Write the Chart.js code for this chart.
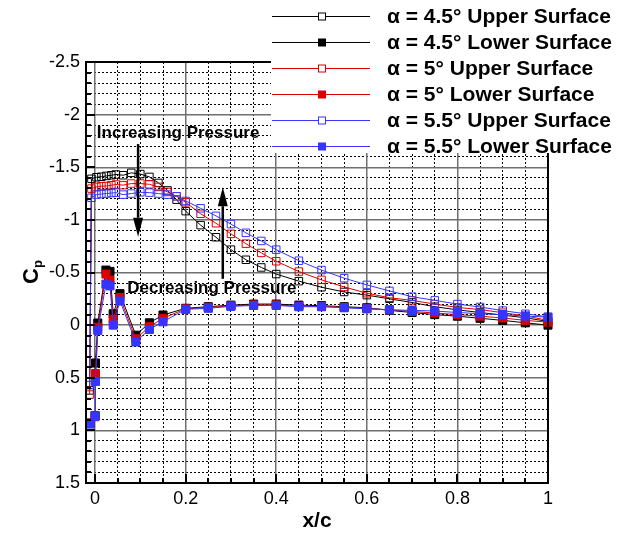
<!DOCTYPE html>
<html><head><meta charset="utf-8">
<script src="https://cdn.jsdelivr.net/npm/chart.js@4/dist/chart.umd.min.js"></script>
<style>html,body{margin:0;padding:0;background:#fff;}#wrap{position:relative;width:621px;height:537px;}</style>
</head><body><div id="wrap"><canvas id="c"></canvas></div>
<script>
// ---- data ----
const xUpper = [-0.012, -0.008, 0.003, 0.014, 0.025, 0.036, 0.046, 0.062, 0.08, 0.1, 0.12, 0.14, 0.16, 0.18, 0.2, 0.233, 0.267, 0.3, 0.333, 0.367, 0.4, 0.45, 0.5, 0.55, 0.6, 0.65, 0.7, 0.75, 0.8, 0.85, 0.9, 0.95, 1.0];
const cpUpper45 = [0.62, -1.39, -1.405, -1.41, -1.418, -1.424, -1.431, -1.424, -1.447, -1.435, -1.408, -1.351, -1.28, -1.192, -1.083, -0.95, -0.835, -0.717, -0.621, -0.548, -0.485, -0.418, -0.36, -0.315, -0.285, -0.25, -0.215, -0.175, -0.145, -0.12, -0.095, -0.07, -0.035];
const cpUpper5 = [0.66, -1.297, -1.313, -1.32, -1.322, -1.329, -1.336, -1.33, -1.345, -1.345, -1.338, -1.313, -1.265, -1.224, -1.167, -1.058, -0.968, -0.867, -0.774, -0.686, -0.607, -0.509, -0.43, -0.363, -0.303, -0.26, -0.235, -0.2, -0.168, -0.148, -0.118, -0.088, -0.045];
const cpUpper55 = [0.57, -1.21, -1.24, -1.246, -1.25, -1.255, -1.259, -1.24, -1.25, -1.262, -1.259, -1.25, -1.24, -1.224, -1.18, -1.11, -1.038, -0.96, -0.877, -0.8, -0.717, -0.612, -0.523, -0.446, -0.382, -0.325, -0.27, -0.235, -0.2, -0.172, -0.138, -0.108, -0.078];

const xLower = [-0.011, 0.0, 0.001, 0.006, 0.024, 0.033, 0.04, 0.055, 0.09, 0.12, 0.15, 0.2, 0.25, 0.3, 0.35, 0.4, 0.45, 0.5, 0.55, 0.6, 0.65, 0.7, 0.75, 0.8, 0.85, 0.9, 0.95, 1.0];
const cpLower45 = [0.93, 0.86, 0.36, -0.02, -0.523, -0.51, -0.108, -0.299, 0.096, -0.022, -0.096, -0.16, -0.175, -0.19, -0.2, -0.2, -0.19, -0.185, -0.175, -0.165, -0.14, -0.12, -0.1, -0.085, -0.065, -0.045, -0.022, 0.0];
const cpLower5 = [0.93, 0.86, 0.46, 0.02, -0.485, -0.427, -0.055, -0.261, 0.13, 0.015, -0.065, -0.155, -0.168, -0.183, -0.192, -0.192, -0.18, -0.178, -0.168, -0.158, -0.145, -0.13, -0.115, -0.1, -0.085, -0.068, -0.045, -0.028];
const cpLower55 = [0.94, 0.87, 0.535, 0.05, -0.389, -0.373, 0.0, -0.229, 0.16, 0.041, -0.032, -0.15, -0.16, -0.178, -0.187, -0.187, -0.175, -0.175, -0.165, -0.155, -0.146, -0.14, -0.134, -0.12, -0.108, -0.1, -0.086, -0.076];

const seriesLabels = ['\u03B1 = 4.5\u00B0 Upper Surface', '\u03B1 = 4.5\u00B0 Lower Surface', '\u03B1 = 5\u00B0 Upper Surface', '\u03B1 = 5\u00B0 Lower Surface', '\u03B1 = 5.5\u00B0 Upper Surface', '\u03B1 = 5.5\u00B0 Lower Surface'];
const xTickValues = [0, 0.2, 0.4, 0.6, 0.8, 1];
const xTickLabels = ['0', '0.2', '0.4', '0.6', '0.8', '1'];
const yTickValues = [-2.5, -2, -1.5, -1, -0.5, 0, 0.5, 1, 1.5];
const yTickLabels = ['-2.5', '-2', '-1.5', '-1', '-0.5', '0', '0.5', '1', '1.5'];
const xTitle = 'x/c';
const yTitleMain = 'C', yTitleSub = 'p';
const annIncText = 'Increasing Pressure';
const annDecText = 'Decreasing Pressure';

// ---- styling ----
const FONT = '"Liberation Sans", Arial, Helvetica, sans-serif';
const BLACK = '#000000', RED = '#dd0000', BLUE = '#3535ff';
const pts = (xs, ys) => xs.map((x, i) => ({x: x, y: ys[i]}));
function ds(label, xs, ys, color, filled, order) {
  return {
    label: label, data: pts(xs, ys), order: order,
    borderColor: color, borderWidth: 1, tension: 0, fill: false, clip: false,
    pointStyle: 'rect', pointRadius: filled ? 5.7 : 5.3,
    pointBorderColor: color, pointBorderWidth: 1,
    pointBackgroundColor: filled ? color : 'rgba(0,0,0,0)',
    _filled: filled
  };
}
const datasets = [
  ds(seriesLabels[0], xUpper, cpUpper45, BLACK, false, 5),
  ds(seriesLabels[1], xLower, cpLower45, BLACK, true, 4),
  ds(seriesLabels[2], xUpper, cpUpper5, RED, false, 3),
  ds(seriesLabels[3], xLower, cpLower5, RED, true, 2),
  ds(seriesLabels[4], xUpper, cpUpper55, BLUE, false, 1),
  ds(seriesLabels[5], xLower, cpLower55, BLUE, true, 0)
];

const isMult = (v, step) => Math.abs(v / step - Math.round(v / step)) < 1e-6;

const decor = {
  id: 'decor',
  afterDatasetsDraw(chart) {
    const {ctx, chartArea: a} = chart;
    const xs = chart.scales.x, ys = chart.scales.y;
    ctx.save();
    ctx.strokeStyle = '#000';
    ctx.lineWidth = 2;
    ctx.beginPath();
    for (let i = 0; i <= 20; i++) {
      const v = i / 20, px = Math.round(xs.getPixelForValue(v));
      ctx.moveTo(px, a.bottom); ctx.lineTo(px, a.bottom - (isMult(v, 0.2) ? 9 : 5));
    }
    for (let i = -25; i <= 15; i++) {
      const v = i / 10, py = Math.round(ys.getPixelForValue(v));
      ctx.moveTo(a.left, py); ctx.lineTo(a.left + (isMult(v, 0.5) ? 9 : 5), py);
    }
    ctx.stroke();
    ctx.lineWidth = 2;
    ctx.strokeRect(Math.round(a.left), Math.round(a.top), Math.round(a.right - a.left), Math.round(a.bottom - a.top));
    ctx.restore();
  },
  afterDraw(chart) {
    const {ctx} = chart;
    const xs = chart.scales.x, ys = chart.scales.y;
    ctx.save();
    // arrows
    function arrow(xv, fromV, toV) {
      const px = xs.getPixelForValue(xv);
      const y0 = ys.getPixelForValue(fromV), y1 = ys.getPixelForValue(toV);
      const dir = y1 > y0 ? 1 : -1;
      const headL = 19, headW = 5;
      ctx.strokeStyle = '#000'; ctx.fillStyle = '#000'; ctx.lineWidth = 2.5;
      ctx.beginPath(); ctx.moveTo(px, y0); ctx.lineTo(px, y1 - dir * headL); ctx.stroke();
      ctx.beginPath(); ctx.moveTo(px, y1); ctx.lineTo(px - headW, y1 - dir * headL); ctx.lineTo(px + headW, y1 - dir * headL); ctx.closePath(); ctx.fill();
    }
    arrow(0.095, -1.72, -0.84);
    arrow(0.282, -0.44, -1.31);
    ctx.fillStyle = '#000';
    ctx.textBaseline = 'middle'; ctx.textAlign = 'left';
    ctx.font = 'bold 17px ' + FONT;
    ctx.fillText(annIncText, xs.getPixelForValue(0.004), ys.getPixelForValue(-1.826));
    ctx.font = 'bold 17px ' + FONT;
    ctx.fillText(annDecText, xs.getPixelForValue(0.071), ys.getPixelForValue(-0.354));
    // y title
    ctx.save();
    ctx.translate(30, 272);
    ctx.rotate(-Math.PI / 2);
    ctx.textBaseline = 'alphabetic'; ctx.textAlign = 'left';
    ctx.font = 'bold 22px ' + FONT;
    const wC = ctx.measureText(yTitleMain).width;
    ctx.font = 'bold 13px ' + FONT;
    const wP = ctx.measureText(yTitleSub).width;
    const x0 = -(wC + wP) / 2;
    ctx.font = 'bold 22px ' + FONT;
    ctx.fillText(yTitleMain, x0, 8);
    ctx.font = 'bold 13px ' + FONT;
    ctx.fillText(yTitleSub, x0 + wC, 12);
    ctx.restore();
    // legend box
    ctx.fillStyle = '#fff';
    ctx.fillRect(271, 0, 621 - 271, 153);
    chart.data.datasets.forEach((d, i) => {
      const y = 16 + i * 26;
      ctx.strokeStyle = d.borderColor; ctx.lineWidth = 1;
      ctx.beginPath(); ctx.moveTo(272, y + 0.5); ctx.lineTo(370, y + 0.5); ctx.stroke();
      const s = d._filled ? 8 : 7;
      if (d._filled) { ctx.fillStyle = d.borderColor; ctx.fillRect(322 - s / 2, y + 0.5 - s / 2, s, s); }
      else { ctx.fillStyle = '#fff'; ctx.fillRect(322 - s / 2, y + 0.5 - s / 2, s, s); ctx.strokeRect(322 - s / 2, y + 0.5 - s / 2, s, s); }
      ctx.fillStyle = '#000';
      ctx.font = 'bold 21px ' + FONT;
      ctx.textBaseline = 'middle'; ctx.textAlign = 'left';
      ctx.fillText(d.label, 387, y + 1);
    });
    ctx.restore();
  }
};

new Chart(document.getElementById('c'), {
  type: 'line',
  data: {datasets: datasets},
  options: {
    responsive: true, maintainAspectRatio: false, animation: false,
    layout: {padding: {left: 0, right: 73, top: 62, bottom: 0}},
    plugins: {legend: {display: false}, tooltip: {enabled: false}},
    scales: {
      xm: {
        type: 'linear', position: 'bottom', min: -0.02, max: 1,
        afterBuildTicks: s => { const t = []; for (let i = 0; i <= 20; i++) t.push({value: i / 20}); s.ticks = t; },
        afterFit: s => { s.height = 0; },
        ticks: {display: false},
        grid: {drawTicks: false, lineWidth: 1, color: c => isMult(c.tick.value, 0.2) ? 'rgba(0,0,0,0)' : '#000'},
        border: {display: false, dash: [2, 2]}
      },
      ym: {
        type: 'linear', position: 'left', reverse: true, min: -2.5, max: 1.5,
        afterBuildTicks: s => { const t = []; for (let i = -25; i <= 15; i++) t.push({value: i / 10}); s.ticks = t; },
        afterFit: s => { s.width = 0; },
        ticks: {display: false},
        grid: {drawTicks: false, lineWidth: 1, color: c => isMult(c.tick.value, 0.5) ? 'rgba(0,0,0,0)' : '#000'},
        border: {display: false, dash: [2, 2]}
      },
      x: {
        type: 'linear', position: 'bottom', min: -0.02, max: 1,
        afterBuildTicks: s => { s.ticks = xTickValues.map(v => ({value: v})); },
        afterFit: s => { s.height = 54; },
        ticks: {autoSkip: false, maxRotation: 0, padding: 5, color: '#000', font: {family: FONT, size: 18},
          callback: v => xTickLabels[xTickValues.indexOf(v)]},
        grid: {drawTicks: false, lineWidth: 1.5, color: '#707070'},
        border: {display: false},
        title: {display: true, text: xTitle, color: '#000', font: {family: FONT, size: 21, weight: 'bold'}, padding: {top: 0, bottom: 3}}
      },
      y: {
        type: 'linear', position: 'left', reverse: true, min: -2.5, max: 1.5,
        afterBuildTicks: s => { s.ticks = yTickValues.map(v => ({value: v})); },
        afterFit: s => { s.width = 86; },
        ticks: {autoSkip: false, padding: 6, color: '#000', font: {family: FONT, size: 18},
          callback: v => yTickLabels[yTickValues.indexOf(v)]},
        grid: {drawTicks: false, lineWidth: 1.5, color: '#707070'},
        border: {display: false}
      }
    }
  },
  plugins: [decor]
});
</script>
</body></html>
